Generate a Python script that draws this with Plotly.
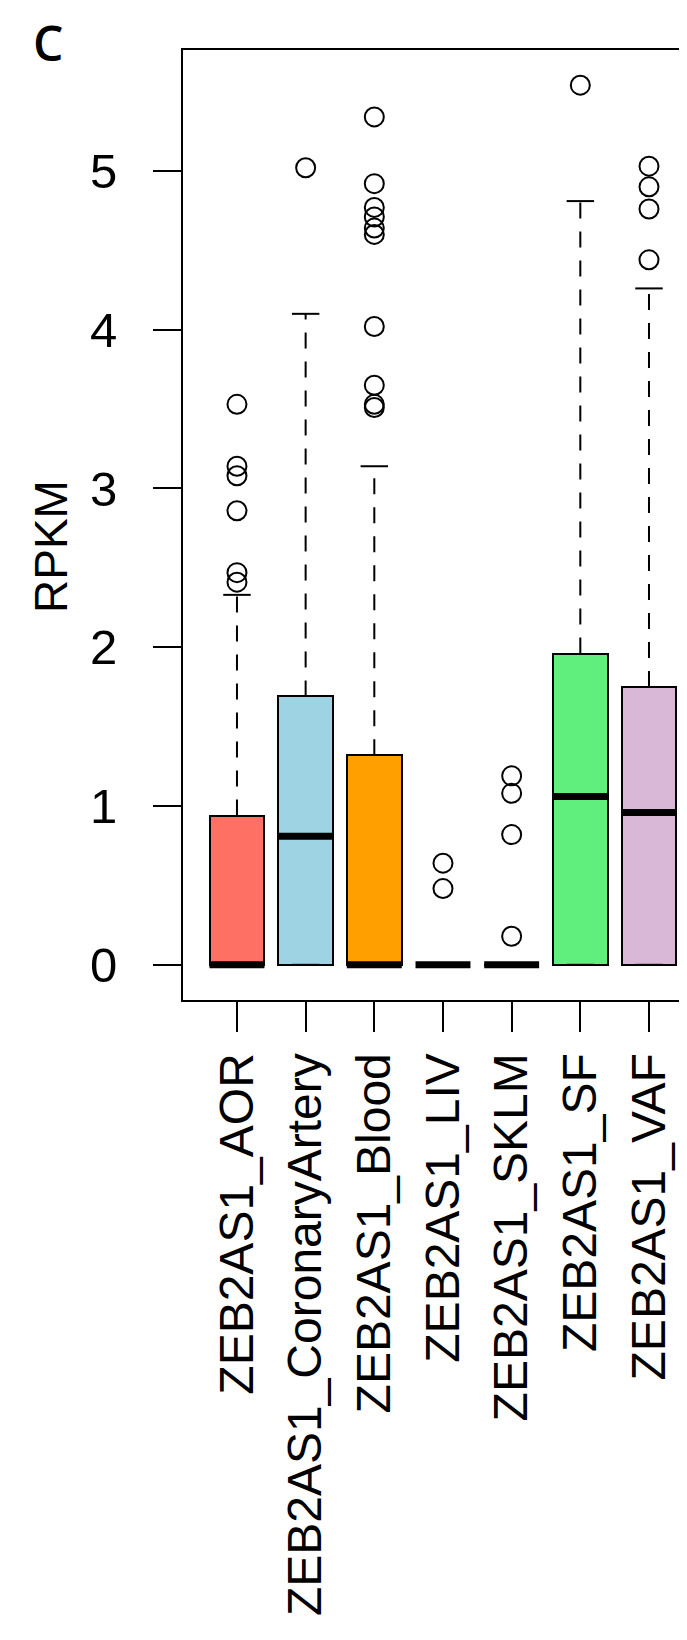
import plotly.graph_objects as go

# ---- data ----
categories = ["ZEB2AS1_AOR", "ZEB2AS1_CoronaryArtery", "ZEB2AS1_Blood",
              "ZEB2AS1_LIV", "ZEB2AS1_SKLM", "ZEB2AS1_SF", "ZEB2AS1_VAF"]
q1 = [0, 0, 0, 0, 0, 0, 0]
median = [0, 0.81, 0, 0, 0, 1.06, 0.96]
q3 = [0.94, 1.69, 1.32, 0, 0, 1.96, 1.75]
lower_whisker = [0, 0, 0, 0, 0, 0, 0]
upper_whisker = [2.33, 4.10, 3.14, 0, 0, 4.81, 4.26]
outliers = [
    [3.53, 3.14, 3.08, 2.86, 2.47, 2.41],
    [5.02],
    [5.34, 4.92, 4.77, 4.71, 4.64, 4.60, 4.02, 3.65, 3.53, 3.51],
    [0.64, 0.48],
    [1.19, 1.08, 0.82, 0.18],
    [5.54],
    [5.03, 4.90, 4.76, 4.44],
]
box_colors = ["#FF7064", "#9DD3E3", "#FF9F00", "#FFFFFF", "#FFFFFF", "#60EE7C", "#D8B8D6"]
y_ticks = [0, 1, 2, 3, 4, 5]

# ---- layout constants ----
W, H = 687, 1640
ML, MR, MT, MB = 175, 0, 42, 648
BOXW = 0.8
CAPW = 0.4
FONT = "Liberation Sans, Arial, sans-serif"

idx = list(range(len(categories)))
fig = go.Figure()

# boxes
fig.add_trace(go.Bar(
    x=idx, base=q1, y=[b - a for a, b in zip(q1, q3)], width=BOXW,
    marker=dict(color=box_colors, line=dict(color="black", width=2)),
    showlegend=False, hoverinfo="skip"))

# dashed whiskers
wx, wy = [], []
for i in idx:
    if upper_whisker[i] > q3[i]:
        wx += [i, i, None]; wy += [q3[i], upper_whisker[i], None]
    if lower_whisker[i] < q1[i]:
        wx += [i, i, None]; wy += [lower_whisker[i], q1[i], None]
fig.add_trace(go.Scatter(x=wx, y=wy, mode="lines",
                         line=dict(color="black", width=2, dash="16px,13px"),
                         showlegend=False, hoverinfo="skip"))

# whisker caps
cx, cy = [], []
for i in idx:
    for v in (upper_whisker[i], lower_whisker[i]):
        cx += [i - CAPW / 2, i + CAPW / 2, None]; cy += [v, v, None]
fig.add_trace(go.Scatter(x=cx, y=cy, mode="lines",
                         line=dict(color="black", width=2),
                         showlegend=False, hoverinfo="skip"))

# medians
mx, my = [], []
for i in idx:
    mx += [i - BOXW / 2, i + BOXW / 2, None]; my += [median[i], median[i], None]
fig.add_trace(go.Scatter(x=mx, y=my, mode="lines",
                         line=dict(color="black", width=7),
                         showlegend=False, hoverinfo="skip"))

# outliers
ox, oy = [], []
for i in idx:
    for v in outliers[i]:
        ox.append(i); oy.append(v)
fig.add_trace(go.Scatter(x=ox, y=oy, mode="markers",
                         marker=dict(symbol="circle-open", size=19, color="black",
                                     line=dict(width=2, color="black")),
                         showlegend=False, hoverinfo="skip"))

plot_w = W - ML - MR
plot_h = H - MT - MB

def px_x(px):
    return (px - ML) / plot_w

def px_y(py):
    return (H - MB - py) / plot_h

fig.update_layout(
    width=W, height=H,
    margin=dict(l=ML, r=MR, t=MT, b=MB, autoexpand=False),
    paper_bgcolor="white", plot_bgcolor="white",
    font=dict(family=FONT, color="black", size=48),
    bargap=0,
    xaxis=dict(range=[-0.786, 6.67], tickvals=idx, ticktext=categories,
               tickangle=-90, ticks="outside", ticklen=30, tickwidth=2,
               tickcolor="black", showline=True, linecolor="black", linewidth=2,
               mirror=True, showgrid=False, zeroline=False,
               ticklabelstandoff=2,
               tickfont=dict(family=FONT, size=48, color="black")),
    yaxis=dict(range=[-0.2216, 5.7616], tickvals=y_ticks,
               ticktext=[str(v) for v in y_ticks],
               ticks="outside", ticklen=28, tickwidth=2, tickcolor="black",
               showline=True, linecolor="black", linewidth=2, mirror=False,
               showgrid=False, zeroline=False, ticklabelstandoff=26,
               tickfont=dict(family=FONT, size=49, color="black")),
    annotations=[
        dict(text="RPKM", x=px_x(43), y=px_y(539), xref="paper", yref="paper",
             textangle=-90, showarrow=False, xanchor="center", yanchor="middle",
             font=dict(family=FONT, size=46, color="black")),
        dict(text="C", x=px_x(40), y=px_y(1), xref="paper", yref="paper",
             showarrow=False, xanchor="center", yanchor="top", borderpad=0,
             font=dict(family="Open Sans, sans-serif", size=48, color="black",
                       weight=600)),
    ],
)

fig.write_html("out.html")
